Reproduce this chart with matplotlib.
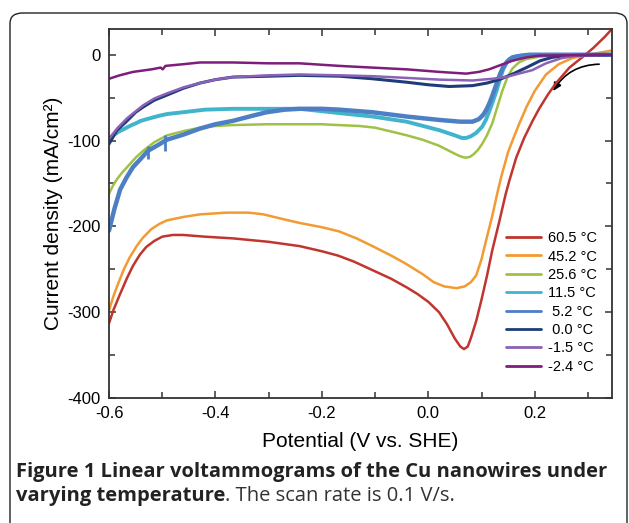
import matplotlib
matplotlib.use("Agg")
import matplotlib.pyplot as plt
from matplotlib.patches import FancyBboxPatch, FancyArrowPatch
from matplotlib.ticker import MultipleLocator

plt.rcParams['font.family'] = ['Liberation Sans', 'DejaVu Sans']

# scan data, potential (V vs SHE) and current density (mA/cm2)
red_x = [-0.600, -0.592, -0.580, -0.566, -0.555, -0.542, -0.530, -0.515, -0.500, -0.480, -0.461, -0.420,
         -0.367, -0.300, -0.242, -0.200, -0.170, -0.140, -0.105, -0.070, -0.041, -0.020, 0.000, 0.020,
         0.035, 0.050, 0.060, 0.067, 0.074, 0.080, 0.090, 0.100, 0.110, 0.120, 0.133, 0.145, 0.152,
         0.165, 0.180, 0.195, 0.208, 0.225, 0.240, 0.265, 0.289, 0.310, 0.330, 0.345]
red_y = [-313, -298, -280, -260, -246, -233, -224, -217, -212, -210, -210, -212,
         -214, -218, -223, -229, -234, -241, -251, -261, -271, -279, -288, -300,
         -314, -331, -340, -343, -340, -330, -310, -285, -258, -228, -195, -163, -147,
         -120, -97, -78, -63, -46, -33, -15, -3, 8, 20, 30]

orange_x = [-0.600, -0.592, -0.583, -0.572, -0.561, -0.548, -0.536, -0.520, -0.505, -0.491, -0.460, -0.429,
            -0.379, -0.340, -0.330, -0.310, -0.290, -0.270, -0.242, -0.200, -0.167, -0.135, -0.105,
            -0.070, -0.041, -0.010, 0.010, 0.030, 0.053, 0.068, 0.080, 0.090, 0.100, 0.109, 0.120, 0.130,
            0.137, 0.150, 0.160, 0.171, 0.185, 0.200, 0.221, 0.245, 0.270, 0.300, 0.345]
orange_y = [-298, -282, -267, -250, -236, -223, -213, -203, -197, -193, -189, -186,
            -184, -184, -184.5, -186, -189, -192, -196, -201, -206, -214, -223,
            -234, -244, -256, -265, -270, -272, -270, -265, -257, -238, -215, -188, -160,
            -142, -113, -97, -80, -60, -42, -23, -11, -4, 0, 5]

green_x = [-0.600, -0.593, -0.585, -0.575, -0.566, -0.550, -0.536, -0.515, -0.491, -0.460, -0.429, -0.400,
           -0.370, -0.304, -0.200, -0.167, -0.130, -0.100, -0.073, -0.040, -0.011, 0.020, 0.039, 0.055,
           0.063, 0.070, 0.078, 0.085, 0.093, 0.101, 0.110, 0.120, 0.130, 0.139, 0.148, 0.158, 0.170,
           0.184, 0.220, 0.345]
green_y = [-162, -153, -145, -137, -131, -120, -112, -102, -94, -89, -85, -83,
           -82, -81, -81, -82, -83, -85, -89, -94, -99, -106, -112, -117,
           -119, -120, -119, -116, -111, -104, -94, -80, -60, -42, -27, -16, -9,
           -5, -1, 0]

cyan_x = [-0.600, -0.590, -0.580, -0.570, -0.561, -0.550, -0.540, -0.523, -0.505, -0.490, -0.461, -0.420,
          -0.367, -0.300, -0.242, -0.167, -0.105, -0.041, 0.021, 0.050, 0.063, 0.071, 0.080, 0.090,
          0.101, 0.108, 0.115, 0.122, 0.128, 0.135, 0.140, 0.147, 0.152, 0.165, 0.180, 0.345]
cyan_y = [-98, -93, -89, -86, -83, -80, -77, -74, -71, -69, -67, -64,
          -63, -63, -63, -68, -72, -78, -88, -94, -97, -97, -95, -91,
          -84, -76, -65, -53, -42, -28, -18, -9, -5, -2, -1, 0]

blue_x = [-0.600, -0.590, -0.579, -0.567, -0.555, -0.540, -0.527, -0.510, -0.491, -0.460, -0.429, -0.400,
          -0.367, -0.330, -0.304, -0.270, -0.242, -0.200, -0.167, -0.105, -0.041, 0.021, 0.060, 0.083,
          0.095, 0.103, 0.109, 0.115, 0.120, 0.128, 0.135, 0.140, 0.148, 0.158, 0.175, 0.190, 0.345]
blue_y = [-205, -180, -157, -143, -131, -121, -112, -106, -99, -93, -86, -81,
          -77, -71, -67, -64, -63, -63, -64, -67, -72, -76, -78, -78,
          -75, -70, -64, -56, -48, -34, -22, -15, -8, -3, -1, 0, 0]
blue_spike_x = [-0.527, -0.495]
blue_spike_lo = [-121, -112]
blue_spike_hi = [-106, -93]

navy_x = [-0.600, -0.585, -0.566, -0.550, -0.536, -0.515, -0.491, -0.460, -0.429, -0.400, -0.367, -0.300,
          -0.242, -0.167, -0.105, -0.041, 0.000, 0.039, 0.083, 0.110, 0.133, 0.160, 0.184, 0.210,
          0.233, 0.260, 0.345]
navy_y = [-104, -88, -77, -67, -61, -53, -47, -39, -33, -29, -26, -25,
          -24, -25, -28, -32, -35, -37, -36, -33, -29, -22, -15, -7,
          -3, -1, 0]

lpurple_x = [-0.600, -0.585, -0.566, -0.550, -0.536, -0.515, -0.491, -0.460, -0.429, -0.400, -0.367, -0.300,
             -0.242, -0.167, -0.105, -0.041, 0.021, 0.083, 0.120, 0.146, 0.170, 0.195, 0.221, 0.250,
             0.280, 0.345]
lpurple_y = [-98, -86, -74, -66, -59, -51, -45, -38, -33, -29, -26, -24,
             -23, -24, -25, -27, -29, -30, -28, -26, -22, -18, -10, -4,
             -1, 0]

dpurple_x = [-0.600, -0.580, -0.555, -0.520, -0.503, -0.499, -0.494, -0.460, -0.429, -0.367, -0.300, -0.242,
             -0.167, -0.105, -0.041, 0.021, 0.071, 0.095, 0.114, 0.140, 0.158, 0.185, 0.208, 0.345]
dpurple_y = [-28, -24, -20, -17, -15, -17, -13, -11, -9, -9, -10, -10,
             -13, -15, -17, -20, -22, -20, -17, -11, -7, -3, -1, 0]

labels = ["60.5 °C", "45.2 °C", "25.6 °C", "11.5 °C", " 5.2 °C", " 0.0 °C", "-1.5 °C", "-2.4 °C"]
colors = ['#c1352f', '#f39a32', '#9fc246', '#41b4cc', '#4d7fc5', '#1e3c78', '#8b62b8', '#7d1e7b']
widths = [1.8, 1.8, 1.8, 2.8, 3.2, 2.2, 1.8, 1.8]

series = [(red_x, red_y), (orange_x, orange_y), (green_x, green_y), (cyan_x, cyan_y),
          (blue_x, blue_y), (navy_x, navy_y), (lpurple_x, lpurple_y), (dpurple_x, dpurple_y)]

fig = plt.figure(figsize=(6.29, 5.23), dpi=100)

# rounded frame around the figure and its caption
frame = FancyBboxPatch((10 / 629, -0.02), 617 / 629, (523 - 13) / 523 + 0.02,
                       boxstyle="round,pad=0,rounding_size=0.02", transform=fig.transFigure,
                       fill=False, edgecolor='#222222', linewidth=1.0, clip_on=False)
fig.patches.append(frame)

ax = fig.add_axes([109 / 629, 125 / 523, 503 / 629, 369 / 523])

for (xs, ys), lab, c, w in zip(series, labels, colors, widths):
    ax.plot(xs, ys, color=c, lw=w, label=lab, solid_capstyle='round', solid_joinstyle='round')
ax.vlines(blue_spike_x, blue_spike_lo, blue_spike_hi, color=colors[4], lw=2)

ax.set_xlim(-0.6, 0.345)
ax.set_ylim(-400, 30)
ax.xaxis.set_minor_locator(MultipleLocator(0.1))
ax.yaxis.set_minor_locator(MultipleLocator(50))
ax.set_xticks([-0.6, -0.4, -0.2, 0.0, 0.2])
ax.set_xticklabels(["-0.6", "-0.4", "-0.2", "0.0", "0.2"])
ax.set_yticks([-400, -300, -200, -100, 0])
ax.set_yticklabels(["-400", "-300", "-200", "-100", "0"])
ax.tick_params(which='both', direction='in', top=True, right=True, width=1.1, color='#333333')
ax.tick_params(which='major', length=5, labelsize=12, pad=6)
ax.tick_params(which='minor', length=4)
for s in ax.spines.values():
    s.set_linewidth(1.3)
    s.set_color('#333333')

ax.set_xlabel("Potential (V vs. SHE)", fontsize=15, labelpad=8)
ax.set_ylabel("Current density (mA/cm²)", fontsize=15, labelpad=3)

arrow = FancyArrowPatch((0.326, -11), (0.232, -45), connectionstyle="arc3,rad=0.3",
                        arrowstyle="-|>", mutation_scale=12, color='black', lw=1.2)
ax.add_patch(arrow)

leg = ax.legend(loc='upper left', bbox_to_anchor=(0.789, 0.452), frameon=False, fontsize=10.5,
                handlelength=2.4, handletextpad=0.5, labelspacing=0.3, borderpad=0, borderaxespad=0)
for ln in leg.get_lines():
    ln.set_linewidth(2.0)

# caption
cap_size = 14.5
fig.text(16 / 629, 1 - 477 / 523, "Figure 1 Linear voltammograms of the Cu nanowires under",
         fontsize=cap_size, fontweight='bold', family='Open Sans', va='baseline', color='#222222')
t1 = fig.text(16 / 629, 1 - 501 / 523, "varying temperature", fontsize=cap_size, fontweight='bold',
              family='Open Sans', va='baseline', color='#222222')
fig.canvas.draw()
bb = t1.get_window_extent()
fig.text(bb.x1 / fig.bbox.width, 1 - 501 / 523, ". The scan rate is 0.1 V/s.", fontsize=cap_size,
         family='Open Sans', va='baseline', color='#333333')

fig.savefig("out.png", dpi=100)
